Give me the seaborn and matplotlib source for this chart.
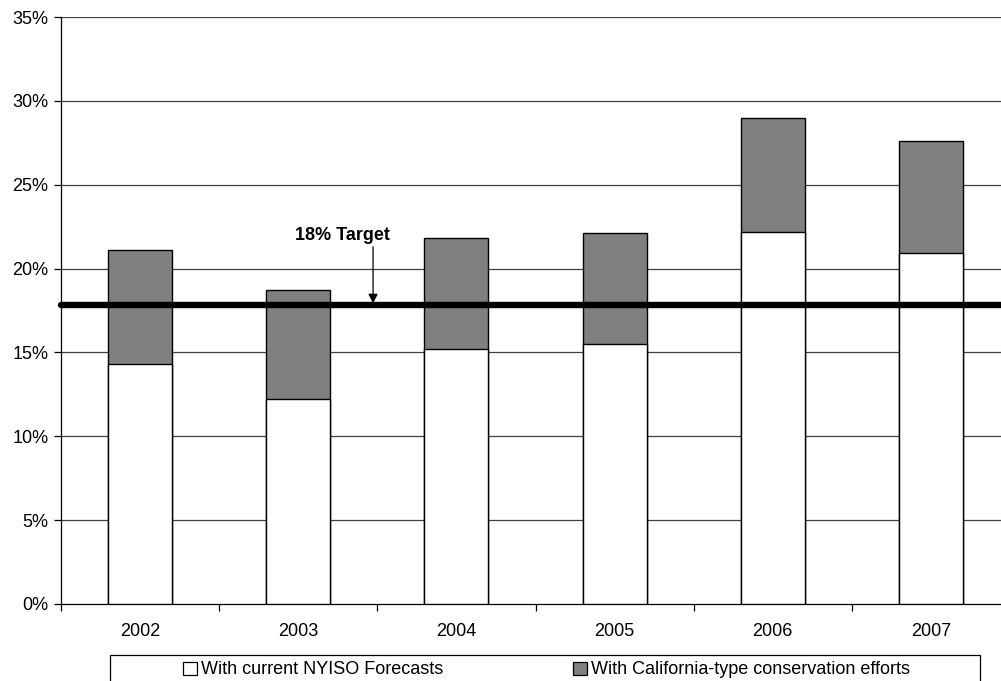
import matplotlib
matplotlib.use("Agg")
import matplotlib.pyplot as plt
from matplotlib.patches import Rectangle, Patch
from matplotlib.ticker import FixedLocator, PercentFormatter
import seaborn as sns
import pandas as pd

# Reserve margin by year (%)
years = ["2002", "2003", "2004", "2005", "2006", "2007"]
current_forecast = [14.3, 12.2, 15.2, 15.5, 22.2, 20.9]
with_conservation = [21.1, 18.7, 21.8, 22.1, 29.0, 27.6]
target_level = 17.8
target_label = "18% Target"
legend_labels = ["With current NYISO Forecasts",
                 "With California-type conservation efforts"]

df = pd.DataFrame({"year": years,
                   "current": current_forecast,
                   "conservation": with_conservation})

sns.set_theme(style="white")
plt.rcParams["font.family"] = ["Liberation Sans", "DejaVu Sans"]
plt.rcParams["text.color"] = "black"

FS = 13

fig = plt.figure(figsize=(10.01, 6.81), dpi=100)
ax = fig.add_axes([61 / 1001, 77 / 681, 949 / 1001, 587 / 681])

# horizontal gridlines
for v in range(5, 40, 5):
    ax.axhline(v, color="#404040", lw=0.9, zorder=0)

# stacked bars: total height in grey, current-forecast part in white on top
bar_w = 0.405
sns.barplot(data=df, x="year", y="conservation", color="#808080",
            saturation=1, width=bar_w, edgecolor="black", linewidth=1.0,
            ax=ax, zorder=2)
sns.barplot(data=df, x="year", y="current", color="white",
            saturation=1, width=bar_w, edgecolor="black", linewidth=1.0,
            ax=ax, zorder=3)

# target line with its label and pointer
ax.axhline(target_level, color="black", lw=4.6, zorder=4, clip_on=False)
ax.text(1.28, 21.95, target_label, ha="center", va="center",
        fontsize=FS, fontweight="bold", color="black", zorder=5)
ax.annotate("", xy=(1.473, target_level + 0.12), xytext=(1.473, 21.3),
            arrowprops=dict(arrowstyle="-|>", color="black", lw=0.9,
                            mutation_scale=14, shrinkA=0, shrinkB=0),
            zorder=5)

ax.set_xlim(-0.5, 5.5)
ax.set_ylim(0, 35)
ax.yaxis.set_major_locator(FixedLocator(list(range(0, 40, 5))))
ax.yaxis.set_major_formatter(PercentFormatter(decimals=0))
ax.set_xlabel("")
ax.set_ylabel("")

# ticks between categories, labels centred
ax.set_xticks(range(len(years)))
ax.set_xticklabels(years)
ax.set_xticks([i + 0.5 for i in range(-1, len(years))], minor=True)
ax.tick_params(axis="x", which="major", length=0, pad=14, labelsize=FS)
ax.tick_params(axis="x", which="minor", length=5, width=0.9,
               color="black", direction="out", bottom=True)
ax.tick_params(axis="y", which="major", length=5, width=0.9,
               color="black", direction="out", left=True, pad=4,
               labelsize=FS)
for lbl in ax.get_xticklabels() + ax.get_yticklabels():
    lbl.set_color("black")

for side in ["top", "right"]:
    ax.spines[side].set_visible(False)
for side in ["left", "bottom"]:
    ax.spines[side].set_color("black")
    ax.spines[side].set_linewidth(0.9)
ax.grid(False)

# legend with its own box below the chart
fig.patches.append(Rectangle((110 / 1001, -10 / 681), 870 / 1001, 36 / 681,
                             transform=fig.transFigure, facecolor="white",
                             edgecolor="black", lw=0.9))
handles = [Patch(facecolor="white", edgecolor="black", lw=0.9),
           Patch(facecolor="#808080", edgecolor="black", lw=0.9)]
fig.legend(handles, legend_labels, ncol=2, frameon=False,
           loc="center left", bbox_to_anchor=(183 / 1001, 11 / 681),
           borderpad=0, borderaxespad=0, handlelength=0.75,
           handleheight=0.75, handletextpad=0.25, columnspacing=7.2,
           fontsize=FS)

fig.savefig("out.png", dpi=100)
